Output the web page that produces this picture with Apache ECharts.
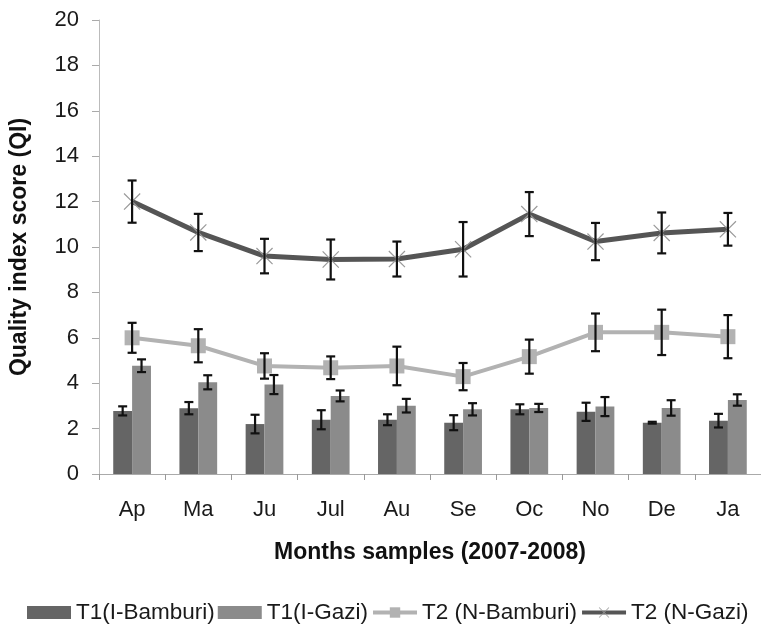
<!DOCTYPE html>
<html>
<head>
<meta charset="utf-8">
<script src="https://cdn.jsdelivr.net/npm/echarts@6/dist/echarts.min.js"></script>
<style>html,body{margin:0;padding:0;background:#fff;}#c{width:761px;height:628px;}</style>
</head>
<body>
<div id="c"></div>
<script>
const months = ['Ap','Ma','Ju','Jul','Au','Se','Oc','No','De','Ja'];
const yTicks = [0,2,4,6,8,10,12,14,16,18,20];
const t1Bamburi    = [2.78, 2.90, 2.20, 2.39, 2.39, 2.26, 2.85, 2.74, 2.26, 2.35];
const t1BamburiErr = [0.20, 0.27, 0.41, 0.42, 0.24, 0.33, 0.22, 0.40, 0.04, 0.30];
const t1Gazi       = [4.77, 4.04, 3.94, 3.44, 3.01, 2.85, 2.91, 2.97, 2.91, 3.26];
const t1GaziErr    = [0.28, 0.31, 0.42, 0.24, 0.30, 0.27, 0.18, 0.42, 0.34, 0.25];
const t2Bamburi    = [6.00, 5.65, 4.76, 4.68, 4.76, 4.29, 5.17, 6.24, 6.24, 6.05];
const t2BamburiErr = [0.66, 0.73, 0.56, 0.50, 0.85, 0.60, 0.75, 0.83, 1.00, 0.95];
const t2Gazi       = [12.00, 10.64, 9.60, 9.45, 9.47, 9.90, 11.45, 10.24, 10.62, 10.78];
const t2GaziErr    = [0.93, 0.82, 0.76, 0.88, 0.77, 1.20, 0.97, 0.82, 0.90, 0.72];

const FONT = 'Liberation Sans, Arial, sans-serif';
const GAP = 0.43; // bar category gap fraction

function errData(vals, errs, off) {
  return vals.map((v, i) => [i, v - errs[i], v + errs[i], off]);
}
function renderErr(params, api) {
  const idx = api.value(0);
  const x0 = api.coord([idx, 0])[0];
  const band = api.size([1, 0])[0];
  const barW = band * (1 - GAP) / 2;
  const cx = x0 + api.value(3) * barW / 2;
  const yl = api.coord([idx, api.value(1)])[1];
  const yh = api.coord([idx, api.value(2)])[1];
  const cap = 4.5;
  const st = { stroke: '#111', lineWidth: 2.2 };
  return {
    type: 'group',
    children: [
      { type: 'line', shape: { x1: cx, y1: yl, x2: cx, y2: yh }, style: st },
      { type: 'line', shape: { x1: cx - cap, y1: yl, x2: cx + cap, y2: yl }, style: st },
      { type: 'line', shape: { x1: cx - cap, y1: yh, x2: cx + cap, y2: yh }, style: st }
    ]
  };
}
const xSym = 'path://M0,1 L1,0 L10,9 L19,0 L20,1 L11,10 L20,19 L19,20 L10,11 L1,20 L0,19 L9,10 Z';

const chart = echarts.init(document.getElementById('c'), null, { renderer: 'canvas' });
chart.setOption({
  animation: false,
  backgroundColor: '#fff',
  textStyle: { fontFamily: FONT },
  grid: { left: 98, top: 20, width: 674, height: 454 },
  legend: {
    top: 601, left: 27,
    padding: 0,
    itemGap: 3,
    itemWidth: 44, itemHeight: 13,
    textStyle: { fontFamily: FONT, fontSize: 22.5, color: '#1a1a1a' },
    data: [
      { name: 'T1(I-Bamburi)', icon: 'rect', itemStyle: { color: '#656565' } },
      { name: 'T1(I-Gazi)', icon: 'rect', itemStyle: { color: '#8b8b8b' } },
      { name: 'T2 (N-Bamburi)', lineStyle: { width: 4, color: '#b2b2b2' } },
      { name: 'T2 (N-Gazi)', lineStyle: { width: 4, color: '#555' } }
    ]
  },
  xAxis: {
    type: 'category',
    data: months,
    boundaryGap: true,
    name: 'Months samples (2007-2008)',
    nameLocation: 'middle',
    nameGap: 67,
    nameTextStyle: { fontFamily: FONT, fontSize: 23, fontWeight: 'bold', color: '#111' },
    axisLine: { lineStyle: { color: '#aaa', width: 1 } },
    axisTick: { show: true, length: 6, lineStyle: { color: '#999' } },
    axisLabel: { margin: 25, fontFamily: FONT, fontSize: 22, color: '#1a1a1a' }
  },
  yAxis: {
    type: 'value',
    min: yTicks[0], max: yTicks[yTicks.length - 1], interval: 2,
    name: 'Quality index score (QI)',
    nameLocation: 'middle',
    nameGap: 68,
    nameTextStyle: { fontFamily: FONT, fontSize: 23, fontWeight: 'bold', color: '#111' },
    axisLine: { show: true, lineStyle: { color: '#bbb', width: 1 } },
    axisTick: { show: true, length: 7, lineStyle: { color: '#aaa' } },
    splitLine: { show: false },
    axisLabel: { margin: 20, fontFamily: FONT, fontSize: 22, color: '#1a1a1a' }
  },
  series: [
    {
      name: 'T1(I-Bamburi)', type: 'bar', data: t1Bamburi,
      barGap: '0%', barCategoryGap: (GAP * 100) + '%',
      itemStyle: { color: '#656565' }
    },
    {
      name: 'T1(I-Gazi)', type: 'bar', data: t1Gazi,
      barGap: '0%', barCategoryGap: (GAP * 100) + '%',
      itemStyle: { color: '#8b8b8b' }
    },
    {
      name: 'T2 (N-Bamburi)', type: 'line', data: t2Bamburi,
      symbol: 'rect', symbolSize: 15,
      lineStyle: { color: '#b2b2b2', width: 4 },
      itemStyle: { color: '#b2b2b2' }, z: 3
    },
    {
      name: 'T2 (N-Gazi)', type: 'line', data: t2Gazi,
      symbol: xSym, symbolSize: 17,
      lineStyle: { color: '#555', width: 5 },
      itemStyle: { color: '#9a9a9a' }, z: 3
    },
    { type: 'custom', renderItem: renderErr, data: errData(t1Bamburi, t1BamburiErr, -1), z: 10, silent: true },
    { type: 'custom', renderItem: renderErr, data: errData(t1Gazi, t1GaziErr, 1), z: 10, silent: true },
    { type: 'custom', renderItem: renderErr, data: errData(t2Bamburi, t2BamburiErr, 0), z: 10, silent: true },
    { type: 'custom', renderItem: renderErr, data: errData(t2Gazi, t2GaziErr, 0), z: 10, silent: true }
  ]
});
</script>
</body>
</html>
